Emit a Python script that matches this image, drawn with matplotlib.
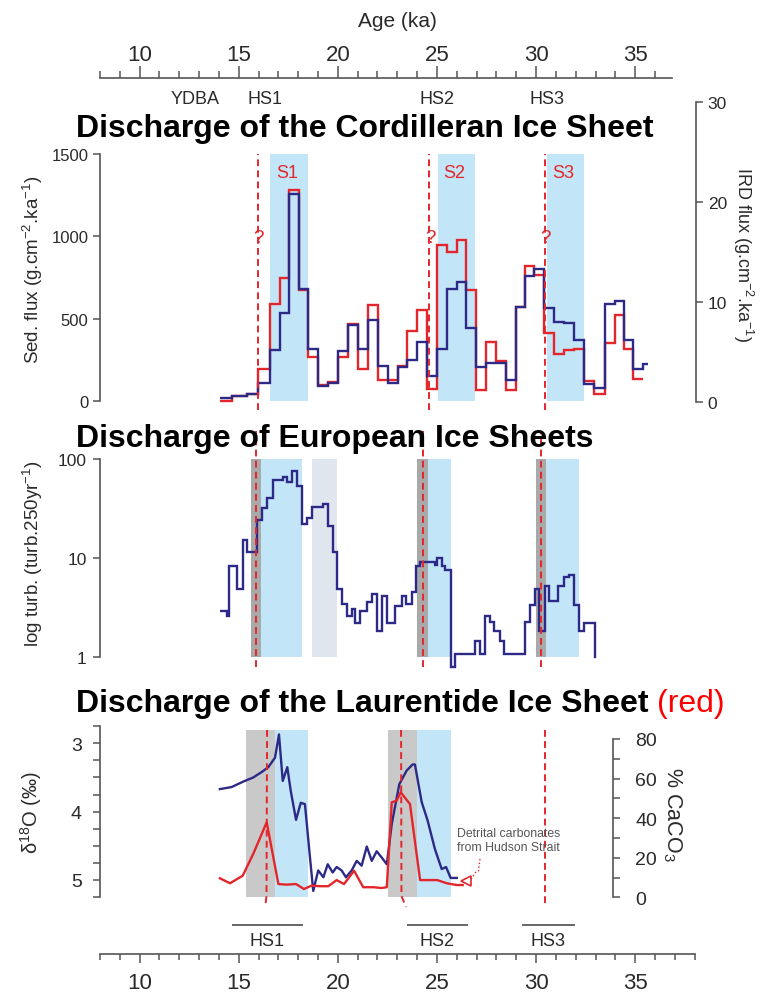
import matplotlib
matplotlib.use("Agg")
import matplotlib.pyplot as plt
from matplotlib import transforms
from matplotlib.ticker import FixedLocator, NullLocator

plt.rcParams['font.family'] = ['Liberation Sans', 'DejaVu Sans']
plt.rcParams['mathtext.fontset'] = 'custom'
plt.rcParams['mathtext.rm'] = 'Liberation Sans'
plt.rcParams['mathtext.it'] = 'Liberation Sans:italic'
plt.rcParams['mathtext.bf'] = 'Liberation Sans:bold'

# ---------------- datos ----------------
# Cordilleran Ice Sheet: bordes de las clases (ka), flujo sed. (azul), flujo IRD (rojo)
cis_edges = [14.05, 14.64, 15.40, 15.99, 16.58, 17.08, 17.55, 18.04, 18.51, 19.01,
             19.52, 20.02, 20.53, 21.03, 21.54, 22.03, 22.55, 23.05, 23.49, 23.98,
             24.48, 24.99, 25.49, 26.00, 26.47, 26.95, 27.46, 27.97, 28.48, 28.99,
             29.44, 29.90, 30.40, 30.91, 31.41, 31.92, 32.42, 32.92, 33.48, 33.98,
             34.45, 34.90, 35.41, 35.66]
cis_sed = [22, 30, 44, 111, 312, 534, 1256, 682, 318, 95, 111, 307, 465, 318, 496,
           216, 111, 210, 251, 357, 155, 316, 684, 726, 444, 206, 231, 233, 128, 571,
           763, 803, 565, 480, 476, 372, 105, 79, 591, 611, 372, 196, 227]
cis_ird = [0.1, 0.6, 0.8, 3.3, 9.8, 12.4, 21.2, 11.2, 4.5, 1.7, 2.0, 4.5, 7.8, 3.3,
           9.7, 2.2, 2.2, 3.6, 7.1, 9.2, 1.3, 15.7, 15.0, 16.2, 11.2, 1.2, 6.0, 4.1,
           1.2, 9.5, 13.6, 12.7, 6.9, 4.8, 5.2, 5.3, 2.1, 0.8, 5.9, 8.7, 5.3, 2.3]
cis_spans = [(16.58, 18.51), (25.03, 26.92), (30.54, 32.42)]
cis_span_names = ['S1', 'S2', 'S3']
cis_dash = [15.97, 24.60, 30.45]

# European Ice Sheets: turbiditas
eis_edges = [14.05, 14.39, 14.52, 14.93, 15.20, 15.43, 15.91, 16.16, 16.44, 16.71,
             17.22, 17.45, 17.67, 17.92, 18.18, 18.46, 18.68, 19.27, 19.52, 19.77,
             19.97, 20.21, 20.44, 20.70, 20.89, 21.14, 21.46, 21.71, 21.99, 22.21,
             22.48, 22.88, 23.22, 23.44, 23.73, 23.94, 24.17, 24.56, 24.90, 25.02,
             25.24, 25.41, 25.69, 25.91, 26.92, 27.17, 27.40, 27.68, 27.90, 28.16,
             28.38, 29.44, 29.70, 29.95, 30.16, 30.45, 30.67, 31.12, 31.43, 31.68,
             31.92, 32.18, 32.42, 32.97]
eis_turb = [2.94, 2.58, 8.36, 4.86, 15.3, 11.6, 24.4, 31.8, 40.4, 61.4, 65.3, 58.2,
            75.1, 53.7, 22.0, 25.4, 32.5, 35.1, 21.2, 11.4, 4.86, 3.43, 2.61, 3.05,
            2.23, 2.94, 3.59, 4.33, 1.84, 4.10, 2.20, 3.30, 4.16, 3.43, 4.50, 8.30,
            9.18, 9.05, 8.50, 9.93, 8.36, 7.62, 0.79, 1.07, 1.46, 1.07, 2.59, 2.26,
            1.84, 1.46, 1.07, 2.24, 3.35, 4.86, 1.84, 5.25, 3.70, 5.25, 6.43, 6.81,
            3.39, 1.83, 2.18]
eis_end = 1.0
eis_gray = [(15.60, 16.12), (24.01, 24.53), (30.00, 30.49)]
eis_blue = [(16.12, 18.18), (24.53, 25.69), (30.49, 32.18)]
eis_pale = [(18.68, 19.94)]
eis_dash = [15.87, 24.28, 30.25]

# Laurentide Ice Sheet: d18O (azul) y % CaCO3 (rojo)
lis_age_d18o = [14.05, 14.64, 15.23, 15.73, 16.16, 16.49, 16.83, 17.03, 17.22, 17.45,
                17.62, 17.89, 18.13, 18.34, 18.60, 18.76, 19.01, 19.27, 19.49, 19.74,
                19.94, 20.19, 20.41, 20.70, 20.95, 21.20, 21.46, 21.71, 21.96, 22.21,
                22.47, 22.72, 23.10, 23.47, 23.77, 23.89, 24.23, 24.53, 24.90, 25.24,
                25.46, 25.69, 26.00]
lis_d18o = [3.67, 3.64, 3.56, 3.50, 3.42, 3.35, 3.21, 2.87, 3.55, 3.35, 3.69, 4.12,
            3.87, 3.89, 4.69, 5.16, 4.86, 4.96, 4.77, 4.89, 4.81, 4.86, 4.96, 4.86,
            4.72, 4.79, 4.51, 4.72, 4.58, 4.67, 4.77, 4.18, 3.60, 3.40, 3.31, 3.31,
            3.86, 4.13, 4.55, 4.84, 4.81, 4.97, 4.97]
lis_age_caco3 = [14.05, 14.56, 15.20, 15.73, 16.41, 17.00, 17.42, 17.89, 18.29, 18.68,
                 19.10, 19.52, 19.94, 20.31, 20.82, 21.28, 21.79, 22.21, 22.47, 22.72,
                 22.97, 23.17, 23.64, 24.15, 25.02, 25.49, 26.00, 26.30]
lis_caco3 = [9.6, 7.1, 10.9, 21.9, 37.9, 6.7, 6.4, 6.7, 4.2, 5.9, 5.6, 5.6, 8.7, 6.7,
             13.4, 5.1, 5.1, 4.7, 5.1, 48.0, 48.8, 53.1, 47.1, 8.7, 8.7, 7.1, 6.2, 6.2]
lis_gray = [(15.37, 16.83), (22.52, 23.98)]
lis_blue = [(16.83, 18.51), (23.98, 25.69)]
lis_dash = [16.43, 23.19, 30.45]

hs_names = ['HS1', 'HS2', 'HS3']
hs_bars = [(14.71, 18.18), (23.54, 26.50), (29.33, 31.92)]
top_names = ['YDBA', 'HS1', 'HS2', 'HS3']
top_ages = [12.79, 16.33, 25.00, 30.55]

# ---------------- estilo ----------------
BLUE = '#2c2a86'
RED = '#e3262c'
SPAN_BLUE = '#c3e5f8'
SPAN_GRAY = '#a9a9a9'
SPAN_GRAY3 = '#c9c9c9'
SPAN_PALE = '#dfe6ee'
SPINE = '#555555'
TXT = '#2a2a2a'

W, H = 770, 995
fig = plt.figure(figsize=(W / 100, H / 100), dpi=100)
XL = (8.0, 8.0 + (696 - 100) / 19.82)


def axbox(x0, y0, x1, y1):
    return fig.add_axes([x0 / W, 1 - y1 / H, (x1 - x0) / W, (y1 - y0) / H])


def fr(y, top, bot):
    return (bot - y) / (bot - top)


def style(ax, side, size, pad):
    for s in ['top', 'bottom', 'left', 'right']:
        ax.spines[s].set_visible(s == side)
    ax.spines[side].set_color(SPINE)
    ax.spines[side].set_linewidth(1.2)
    ax.xaxis.set_visible(False)
    ax.tick_params(axis='y', which='both', direction='out', length=5, width=1.1,
                   color=SPINE, labelsize=size, labelcolor=TXT, pad=pad)
    ax.patch.set_visible(False)


# ---------------- panel 1: Cordilleran ----------------
T1, B1 = 103, 412
ax1 = axbox(100, T1, 696, B1)
ax1r = ax1.twinx()
ax1.set_zorder(ax1r.get_zorder() + 1)
ax1.set_xlim(XL)
ax1.set_ylim((402.3 - B1) * 1500 / 247.3, (402.3 - T1) * 1500 / 247.3)
ax1r.set_ylim((403.3 - B1) / 10, (403.3 - T1) / 10)
style(ax1, 'left', 12, 3.2)
style(ax1r, 'right', 12.5, 3.5)
ax1.spines['left'].set_bounds(0, 1500)
ax1r.spines['right'].set_bounds(0, 30)
ax1.yaxis.set_major_locator(FixedLocator([0, 500, 1000, 1500]))
ax1r.yaxis.set_major_locator(FixedLocator([0, 10, 20, 30]))

for (a, b), name in zip(cis_spans, cis_span_names):
    ax1r.axvspan(a, b, ymin=fr(402.3, T1, B1), ymax=fr(155, T1, B1), color=SPAN_BLUE, lw=0)
    ax1.text((a + b) / 2 - 0.1, (402.3 - 173) * 1500 / 247.3, name, color=RED,
             fontsize=13, ha='center', va='center')
ax1r.stairs(cis_ird, cis_edges[:len(cis_ird) + 1], baseline=None, color=RED, lw=1.7)
ax1.stairs(cis_sed, cis_edges, baseline=None, color=BLUE, lw=1.7)
for x in cis_dash:
    ax1.axvline(x, ymin=fr(411, T1, B1), ymax=fr(155, T1, B1), color=RED, lw=1.4,
                dashes=(3.5, 2.2))
    ax1.text(x + 0.05, (402.3 - 238) * 1500 / 247.3, '?', color=RED, fontsize=13.5,
             ha='center', va='center', zorder=5)

fig.text(33 / W, 1 - 270 / H, 'Sed. flux (g.cm$^{-2}$.ka$^{-1}$)', rotation=90,
         ha='center', va='center', fontsize=13.5, color=TXT)
fig.text(743 / W, 1 - 255 / H, 'IRD flux (g.cm$^{-2}$.ka$^{-1}$)', rotation=270,
         ha='center', va='center', fontsize=13, color=TXT)

# ---------------- panel 2: European ----------------
T2, B2 = 432, 670
ax2 = axbox(100, T2, 696, B2)
ax2.set_xlim(XL)
ax2.set_yscale('log')
ax2.set_ylim(10 ** ((658 - B2) / 99), 10 ** ((658 - T2) / 99))
style(ax2, 'left', 12.5, 4.5)
ax2.spines['left'].set_bounds(1, 100)
ax2.yaxis.set_major_locator(FixedLocator([1, 10, 100]))
ax2.yaxis.set_minor_locator(NullLocator())
ax2.set_yticklabels(['1', '10', '100'])

for spans, col in [(eis_gray, SPAN_GRAY), (eis_blue, SPAN_BLUE), (eis_pale, SPAN_PALE)]:
    for a, b in spans:
        ax2.axvspan(a, b, ymin=fr(658, T2, B2), ymax=fr(459.5, T2, B2), color=col, lw=0)
ax2.stairs(eis_turb, eis_edges, baseline=None, color=BLUE, lw=1.7)
ax2.plot([eis_edges[-1]] * 2, [eis_turb[-1], eis_end], color=BLUE, lw=1.7)
for x in eis_dash:
    ax2.axvline(x, ymin=fr(668, T2, B2), ymax=1.0, color=RED, lw=1.4, dashes=(3.5, 2.2))

fig.text(33 / W, 1 - 554 / H, 'log turb. (turb.250yr$^{-1}$)', rotation=90,
         ha='center', va='center', fontsize=13.5, color=TXT)

# ---------------- panel 3: Laurentide ----------------
T3, B3 = 725, 910
ax3 = axbox(100, T3, 696, B3)
ax3r = ax3.twinx()
ax3.set_xlim(XL)
ax3.set_ylim(3 + (B3 - 744.3) / 68.35, 3 + (T3 - 744.3) / 68.35)
ax3r.set_ylim((898.3 - B3) / 1.979, (898.3 - T3) / 1.979)
style(ax3, 'left', 14, 8)
style(ax3r, 'right', 14, 11)
ax3.spines['left'].set_bounds(2.75, 5.25)
ax3r.spines['right'].set_bounds(0, 80)
ax3r.spines['right'].set_position(('data', 8.0 + (613 - 100) / 19.82))
ax3.yaxis.set_major_locator(FixedLocator([3, 4, 5]))
ax3.yaxis.set_minor_locator(FixedLocator([2.75, 3.25, 3.5, 3.75, 4.25, 4.5, 4.75, 5.25]))
ax3r.yaxis.set_major_locator(FixedLocator([0, 20, 40, 60, 80]))
ax3r.yaxis.set_minor_locator(FixedLocator([10, 30, 50, 70]))

for spans, col in [(lis_gray, SPAN_GRAY3), (lis_blue, SPAN_BLUE)]:
    for a, b in spans:
        ax3.axvspan(a, b, ymin=fr(897.7, T3, B3), ymax=fr(731, T3, B3), color=col, lw=0)
ax3.plot(lis_age_d18o, lis_d18o, color=BLUE, lw=1.7)
ax3r.plot(lis_age_caco3, lis_caco3, color=RED, lw=1.7)

tr3 = transforms.blended_transform_factory(ax3.transData, ax3.transAxes)
slant = [(0.0, -0.03, -0.10), (0.0, 0.02, 0.25), (0.0, 0.0, 0.0)]
for x, (d0, d1, d2) in zip(lis_dash, slant):
    ax3.plot([x + d0, x + d1, x + d2],
             [fr(731, T3, B3), fr(897, T3, B3), fr(908, T3, B3)],
             transform=tr3, color=RED, lw=1.4, dashes=(3.5, 2.2))

# nota de carbonatos detriticos
ax3r.plot([26.47], [8.2], marker='<', ms=7, mfc='white', mec=RED, mew=1.2)
ax3r.plot([26.72, 26.97, 27.10, 27.18], [9.2, 12.9, 13.4, 20.2], color=RED,
          lw=1.0, ls=':')
fig.text(457 / W, 1 - 841 / H, 'Detrital carbonates\nfrom Hudson Strait',
         ha='left', va='center', fontsize=8.8, color='#555555', linespacing=1.2)

fig.text(31 / W, 1 - 812 / H, 'δ$^{18}$O (‰)', rotation=90, ha='center',
         va='center', fontsize=14.5, color=TXT)
fig.text(672 / W, 1 - 814 / H, '% CaCO$_3$', rotation=270, ha='center',
         va='center', fontsize=15.5, color=TXT)

# barras HS bajo el panel 3
trf = transforms.blended_transform_factory(ax3.transData, fig.transFigure)
for name, (a, b) in zip(hs_names, hs_bars):
    ax3.plot([a, b], [1 - 925.7 / H] * 2, transform=trf, color='#666666', lw=1.4,
             clip_on=False)
    ax3.text((a + b) / 2, 1 - 942 / H, name, transform=trf, ha='center', va='center',
             fontsize=13, color=TXT)

# ---------------- ejes de edad ----------------
def age_axis(y, side, end, size, pad, L, l):
    ax = fig.add_axes([100 / W, 1 - (y + 2) / H if side == 'top' else 1 - y / H,
                       596 / W, 2 / H])
    ax.set_xlim(XL)
    ax.set_ylim(0, 1)
    for s in ['top', 'bottom', 'left', 'right']:
        ax.spines[s].set_visible(s == side)
    ax.spines[side].set_color(SPINE)
    ax.spines[side].set_linewidth(1.2)
    ax.spines[side].set_bounds(8, end)
    ax.yaxis.set_visible(False)
    ax.patch.set_visible(False)
    ax.xaxis.set_ticks_position(side)
    ax.xaxis.set_label_position(side)
    ax.xaxis.set_major_locator(FixedLocator([10, 15, 20, 25, 30, 35]))
    ax.xaxis.set_minor_locator(FixedLocator(list(range(8, int(end) + 1))))
    ax.tick_params(axis='x', which='major', direction='out', length=L, width=1.1,
                   color=SPINE, labelsize=size, labelcolor=TXT, pad=pad)
    ax.tick_params(axis='x', which='minor', direction='out', length=l, width=1.1,
                   color=SPINE)
    return ax


axt = age_axis(79, 'top', 36.85, 16, 0.5, 8.8, 5.3)
axb = age_axis(955.3, 'bottom', 38.0, 16, 6, 6.5, 4.5)

fig.text(397 / W, 1 - 26.7 / H, 'Age (ka)', ha='center', va='baseline',
         fontsize=15, color=TXT)
trt = transforms.blended_transform_factory(axt.transData, fig.transFigure)
for name, x in zip(top_names, top_ages):
    axt.text(x, 1 - 99.5 / H, name, transform=trt, ha='center', va='center',
             fontsize=13, color=TXT)

# ---------------- titulos ----------------
fig.text(76 / W, 1 - 137 / H, 'Discharge of the Cordilleran Ice Sheet',
         fontsize=23, fontweight='bold', va='baseline', ha='left')
fig.text(76 / W, 1 - 447.3 / H, 'Discharge of European Ice Sheets',
         fontsize=23, fontweight='bold', va='baseline', ha='left')
t3 = fig.text(76 / W, 1 - 712.3 / H, 'Discharge of the Laurentide Ice Sheet',
              fontsize=23, fontweight='bold', va='baseline', ha='left')
ax3.annotate('(red)', xy=(1, 0), xycoords=t3, xytext=(6, 0),
             textcoords='offset points', ha='left', va='bottom', fontsize=23,
             color='#ff0000', annotation_clip=False)

fig.savefig('out.png', dpi=100)
